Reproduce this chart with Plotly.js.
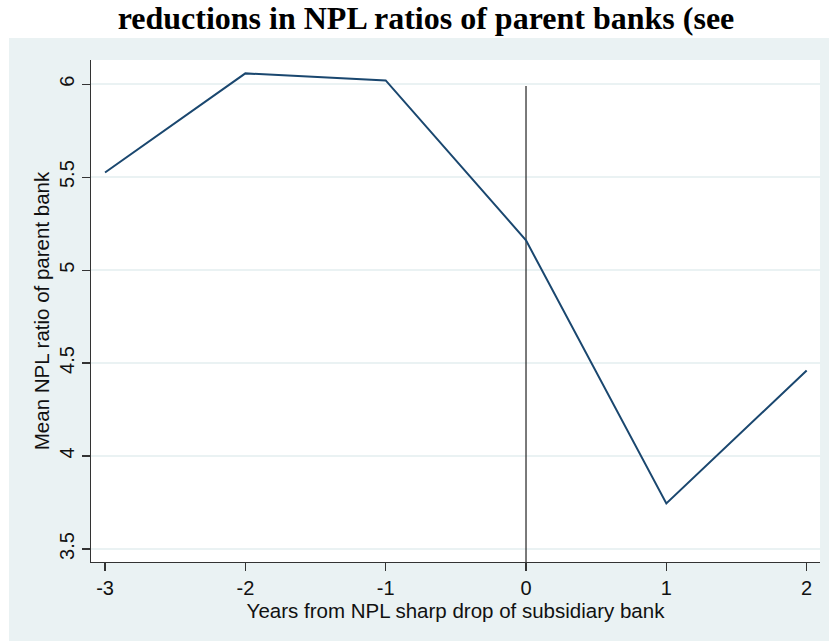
<!DOCTYPE html>
<html>
<head>
<meta charset="utf-8">
<script src="https://cdn.plot.ly/plotly-3.0.1.min.js"></script>
<style>html,body{margin:0;padding:0;background:#fff;}#chart{width:829px;height:641px;}</style>
</head>
<body>
<div id="chart"></div>
<script>
// Data
const years = [-3, -2, -1, 0, 1, 2];
const meanNPL = [5.525, 6.058, 6.02, 5.16, 3.745, 4.46];
const eventLineX = [0, 0];
const eventLineY = [3.43, 5.99];
const yTicks = [3.5, 4, 4.5, 5, 5.5, 6];
const yTickText = ['3.5', '4', '4.5', '5', '5.5', '6'];
const xTicks = [-3, -2, -1, 0, 1, 2];
const xTickText = ['-3', '-2', '-1', '0', '1', '2'];

const bgColor = '#EAF2F3';
const lineColor = '#1A476F';
const sans = '"Liberation Sans", Arial, sans-serif';

const traces = [
  {
    x: eventLineX, y: eventLineY, type: 'scatter', mode: 'lines',
    line: {color: '#222222', width: 1.2}, hoverinfo: 'skip', showlegend: false
  },
  {
    x: years, y: meanNPL, type: 'scatter', mode: 'lines',
    line: {color: lineColor, width: 2}, showlegend: false
  }
];

const layout = {
  width: 829, height: 641,
  margin: {l: 91, r: 9, t: 60, b: 79, pad: 0},
  paper_bgcolor: bgColor,
  plot_bgcolor: '#FFFFFF',
  showlegend: false,
  title: {
    text: 'reductions in NPL ratios of parent banks (see',
    font: {family: '"Liberation Serif", "Times New Roman", serif', size: 32, color: '#000', weight: 'bold'},
    x: 0.4595, xanchor: 'center', xref: 'paper',
    y: 1 - 7/641, yanchor: 'top', yref: 'container'
  },
  xaxis: {
    range: [-3.1, 2.095],
    tickmode: 'array', tickvals: xTicks, ticktext: xTickText,
    ticks: 'outside', ticklen: 8, tickwidth: 1.2, tickcolor: '#333',
    showline: true, linecolor: '#333', linewidth: 1.2,
    showgrid: false, zeroline: false,
    tickfont: {family: sans, size: 20, color: '#111'},
    title: {text: 'Years from NPL sharp drop of subsidiary bank', standoff: 0,
      font: {family: sans, size: 20.5, color: '#111'}}
  },
  yaxis: {
    range: [3.43, 6.13],
    tickmode: 'array', tickvals: yTicks, ticktext: yTickText,
    tickangle: -90,
    ticks: 'outside', ticklen: 8, tickwidth: 1.2, tickcolor: '#333',
    showline: true, linecolor: '#333', linewidth: 1.2,
    showgrid: true, gridcolor: bgColor, gridwidth: 2,
    zeroline: false,
    tickfont: {family: sans, size: 20, color: '#111'},
    title: {text: 'Mean NPL ratio of parent bank', standoff: 0,
      font: {family: sans, size: 20.5, color: '#111'}}
  },
  shapes: [
    {type: 'rect', xref: 'paper', yref: 'paper', layer: 'above',
      x0: -0.2, x1: 1.1, y0: 1 + 22/502, y1: 1.2,
      fillcolor: '#FFFFFF', line: {width: 0}},
    {type: 'rect', xref: 'paper', yref: 'paper', layer: 'above',
      x0: -0.2, x1: -82/729, y0: -0.2, y1: 1.2,
      fillcolor: '#FFFFFF', line: {width: 0}}
  ]
};

Plotly.newPlot('chart', traces, layout, {displayModeBar: false, staticPlot: true});
</script>
</body>
</html>
